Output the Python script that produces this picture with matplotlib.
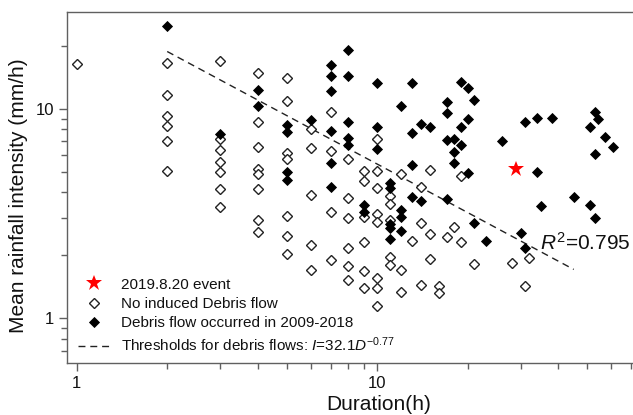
import numpy as np
import matplotlib
matplotlib.use("Agg")
import matplotlib.pyplot as plt
from matplotlib.ticker import FixedLocator, NullFormatter, FixedFormatter

plt.rcParams['font.family'] = ['Liberation Sans', 'DejaVu Sans']
plt.rcParams['mathtext.fontset'] = 'custom'
plt.rcParams['mathtext.rm'] = 'Liberation Sans'
plt.rcParams['mathtext.it'] = 'Liberation Sans:italic'

# Rainfall events without debris flow: duration (h) and mean intensity (mm/h)
no_flow_duration = [1,
                    2, 2, 2, 2, 2, 2,
                    3, 3, 3, 3, 3, 3, 3,
                    4, 4, 4, 4, 4, 4, 4, 4,
                    5, 5, 5, 5, 5, 5, 5,
                    6, 6, 6, 6, 6,
                    7, 7, 7, 7,
                    8, 8, 8, 8, 8, 8,
                    9, 9, 9, 9, 9, 9,
                    10, 10, 10, 10, 10, 10, 10, 10,
                    11, 11, 11, 11, 11,
                    12, 12, 12,
                    13,
                    14, 14, 14,
                    15, 15, 15,
                    16, 16,
                    17, 18, 19, 19, 21, 28, 31, 32]
no_flow_intensity = [16.4,
                     16.5, 11.7, 9.3, 8.3, 7.0, 5.05,
                     16.9, 7.2, 6.4, 5.6, 5.0, 4.15, 3.4,
                     14.8, 8.7, 6.6, 5.15, 4.9, 4.17, 2.94, 2.58,
                     14.0, 10.9, 6.15, 5.75, 3.08, 2.47, 2.02,
                     8.0, 6.5, 3.9, 2.25, 1.71,
                     9.7, 6.3, 3.23, 1.90,
                     5.8, 3.75, 3.0, 2.17, 1.78, 1.52,
                     5.05, 4.53, 3.06, 2.32, 1.68, 1.40,
                     7.2, 5.05, 4.2, 3.14, 2.88, 1.56, 1.39, 1.15,
                     3.82, 3.52, 2.95, 1.96, 1.80,
                     4.87, 1.71, 1.34,
                     2.34,
                     4.22, 2.86, 1.45,
                     5.1, 2.52, 1.91,
                     1.42, 1.32,
                     2.45, 2.72, 4.8, 2.32, 1.82, 1.84, 1.42, 1.95]

# Rainfall events that triggered debris flows (2009-2018)
debris_duration = [2, 3, 4, 4, 5, 5, 5, 5, 6,
                   7, 7, 7, 7, 7, 7,
                   8, 8, 8, 8, 8,
                   9, 9, 10, 10, 10,
                   11, 11, 11, 11, 11,
                   12, 12, 12, 12,
                   13, 13, 13, 13,
                   14, 14, 15,
                   17, 17, 17, 17,
                   18, 18, 18, 19, 19, 19,
                   20, 20, 20, 21, 21, 23, 26, 30, 31, 31,
                   34, 34, 35, 38, 45, 51, 51, 53, 53, 53, 54, 57, 61]
debris_intensity = [25.0, 7.6, 12.3, 10.3, 8.4, 7.8, 4.98, 4.58, 8.86,
                    16.2, 14.4, 12.2, 7.85, 5.5, 4.22,
                    19.1, 14.3, 8.7, 7.3, 6.7,
                    3.48, 3.23, 13.3, 8.18, 6.42,
                    4.42, 4.18, 2.82, 2.69, 2.39,
                    10.3, 3.29, 3.06, 2.61,
                    13.3, 7.65, 5.4, 3.81,
                    8.48, 3.63, 8.23,
                    10.8, 9.6, 7.1, 3.7,
                    7.17, 6.2, 5.54, 13.5, 8.23, 6.75,
                    12.56, 8.93, 4.93, 11.1, 2.86, 2.33, 7.03, 2.56, 8.7, 2.17,
                    9.03, 5.02, 3.45, 9.09, 3.79, 8.23, 3.48, 9.71, 6.1, 3.03, 8.93, 7.38, 6.6]

# The 2019.8.20 event
event_duration = [29]
event_intensity = [5.15]

# Threshold I = a * D^b
threshold_coef = 32.1
threshold_exp = -0.77
threshold_range = [2, 45]
r_squared = 0.795

fig = plt.figure(figsize=(6.33, 4.15), dpi=100)
ax = fig.add_axes([67 / 633, 1 - 363 / 415, 569 / 633, 351 / 415])
ax.set_xscale('log')
ax.set_yscale('log')
ax.set_xlim(0.9284, 72.5)
ax.set_ylim(0.6115, 29.07)

ax.plot(event_duration, event_intensity, linestyle='none', marker='*',
        color='#ff0000', markersize=12, markeredgewidth=0, zorder=4,
        label='2019.8.20 event')
ax.plot(no_flow_duration, no_flow_intensity, linestyle='none', marker='D',
        markerfacecolor='white', markeredgecolor='#222222', markersize=5,
        markeredgewidth=1.0, zorder=3, label='No induced Debris flow')
ax.plot(debris_duration, debris_intensity, linestyle='none', marker='D',
        color='black', markersize=5.2, markeredgewidth=0.6, zorder=3,
        label='Debris flow occurred in 2009-2018')

d_line = np.geomspace(threshold_range[0], threshold_range[1], 100)
i_line = threshold_coef * d_line ** threshold_exp
ax.plot(d_line, i_line, color='#222222', linewidth=1.0, dashes=(5, 3.5),
        zorder=2,
        label=r'Thresholds for debris flows: $I$=%.1f$D^{%.2f}$' % (threshold_coef, threshold_exp))

ax.text(34.8, 2.29, r'$R^2$=%.3f' % r_squared, fontsize=15, ha='left',
        va='center', color='#111111')

# Axes styling
spine_color = '#606060'
for s in ax.spines.values():
    s.set_color(spine_color)
    s.set_linewidth(1.0)

ax.xaxis.set_major_locator(FixedLocator([1, 10]))
ax.xaxis.set_major_formatter(FixedFormatter(['1', '10']))
ax.xaxis.set_minor_locator(FixedLocator([2, 3, 4, 5, 6, 7, 8, 9,
                                         20, 30, 40, 50, 60, 70]))
ax.xaxis.set_minor_formatter(NullFormatter())
ax.yaxis.set_major_locator(FixedLocator([1, 10]))
ax.yaxis.set_major_formatter(FixedFormatter(['1', '10']))
ax.yaxis.set_minor_locator(FixedLocator([0.7, 0.8, 0.9, 2, 3, 4, 5, 6, 7, 8, 9, 20]))
ax.yaxis.set_minor_formatter(NullFormatter())

ax.tick_params(which='major', direction='out', length=6, width=1.0,
               color=spine_color, labelsize=12, pad=3, labelcolor='#111111')
ax.tick_params(which='minor', direction='out', length=4, width=1.0,
               color=spine_color)

ax.set_xlabel('Duration(h)', fontsize=15, color='#111111')
ax.set_ylabel('Mean rainfall intensity (mm/h)', fontsize=15, color='#111111')
ax.xaxis.set_label_coords(0.548, -0.09)
ax.yaxis.set_label_coords(-0.068, 0.477)

leg = ax.legend(loc='lower left', bbox_to_anchor=(0.02, 0.025), frameon=False,
                fontsize=11, handlelength=2.0, handletextpad=0.8,
                labelspacing=0.35, borderaxespad=0, borderpad=0)
for t in leg.get_texts():
    t.set_color('#111111')

fig.savefig('out.png', dpi=100)
